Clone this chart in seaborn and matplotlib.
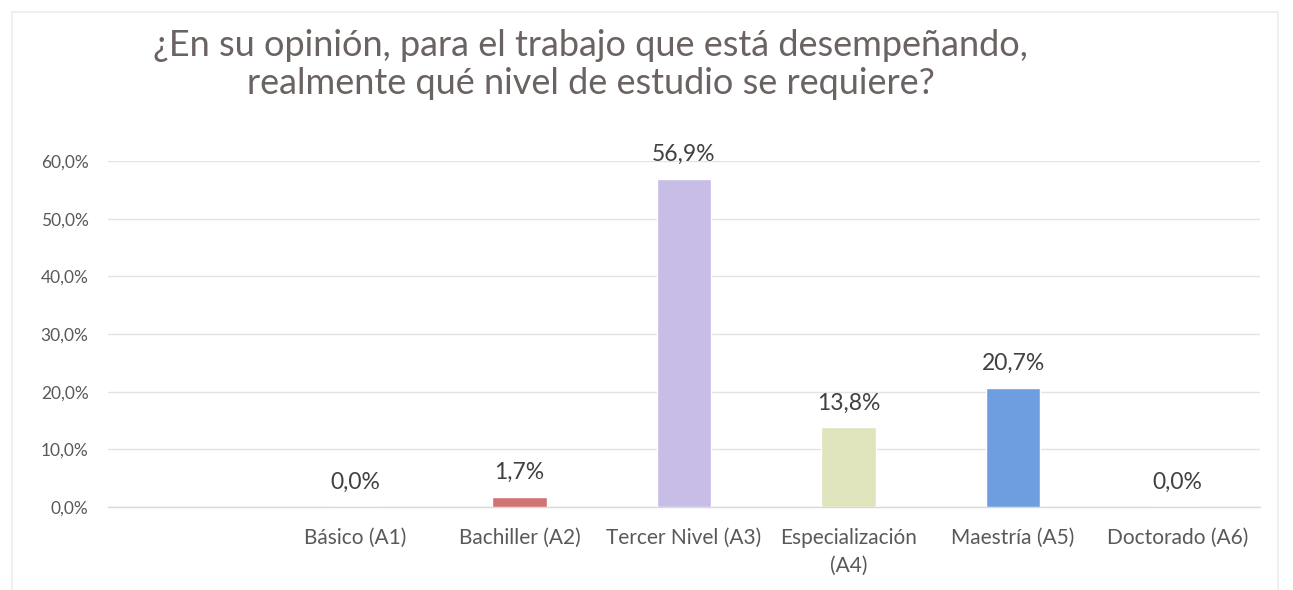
import matplotlib
matplotlib.use("Agg")
import matplotlib.pyplot as plt
from matplotlib.patches import Rectangle
import seaborn as sns
import pandas as pd
import numpy as np

# Survey answers: required level of study for the current job
categories = ["", "Básico (A1)", "Bachiller (A2)", "Tercer Nivel (A3)",
              "Especialización\n(A4)", "Maestría (A5)", "Doctorado (A6)"]
values = [np.nan, 0.0, 1.7, 56.9, 13.8, 20.7, 0.0]
colors = ["#ffffff", "#4f81bd", "#cf7374", "#c8bde6", "#dfe4bd", "#6e9ee0", "#4f81bd"]
yticks = [0, 10, 20, 30, 40, 50, 60]
title = "¿En su opinión, para el trabajo que está desempeñando,\nrealmente qué nivel de estudio se requiere?"

df = pd.DataFrame({"nivel": categories, "pct": values})

sns.set_theme(style="white")
plt.rcParams["font.family"] = ["Lato", "DejaVu Sans"]

fig = plt.figure(figsize=(12.93, 5.90), dpi=100)
ax = fig.add_axes([0.0835, 0.1407, 0.891, 0.5864])

sns.barplot(data=df, x="nivel", y="pct", hue="nivel", order=categories,
            palette=dict(zip(categories, colors)), legend=False,
            width=0.33, saturation=1, ax=ax, zorder=3)

ax.set_ylim(0, 60)
ax.set_yticks(yticks)
ax.set_yticklabels([f"{t:.1f}%".replace(".", ",") for t in yticks])
ax.set_xlim(-0.5, len(categories) - 0.5)
ax.set_xlabel("")
ax.set_ylabel("")

ax.grid(axis="y", color="#e3e3e3", linewidth=1.0, zorder=0)
for side in ["top", "right", "left"]:
    ax.spines[side].set_visible(False)
ax.spines["bottom"].set_color("#d9d9d9")
ax.spines["bottom"].set_linewidth(1.0)
ax.tick_params(axis="both", length=0, colors="#595959")
ax.tick_params(axis="x", pad=15, labelsize=15)
ax.tick_params(axis="y", pad=14, labelsize=12.5)
for lbl in ax.get_xticklabels():
    lbl.set_linespacing(1.5)

for i, v in enumerate(values):
    if np.isnan(v):
        continue
    ax.annotate(f"{v:.1f}%".replace(".", ","), (i, v), xytext=(0, 10),
                textcoords="offset points", ha="center", va="bottom",
                fontsize=16.5, color="#404040", zorder=4)

fig.text(0.457, 0.95, title, ha="center", va="top", fontsize=26,
         color="#6b6262", linespacing=1.17)

fig.patches.append(Rectangle((12 / 1293, -0.05), 1266 / 1293, 1.03,
                             transform=fig.transFigure, fill=False,
                             edgecolor="#ececec", linewidth=1.2))

fig.savefig("out.png", dpi=100)
